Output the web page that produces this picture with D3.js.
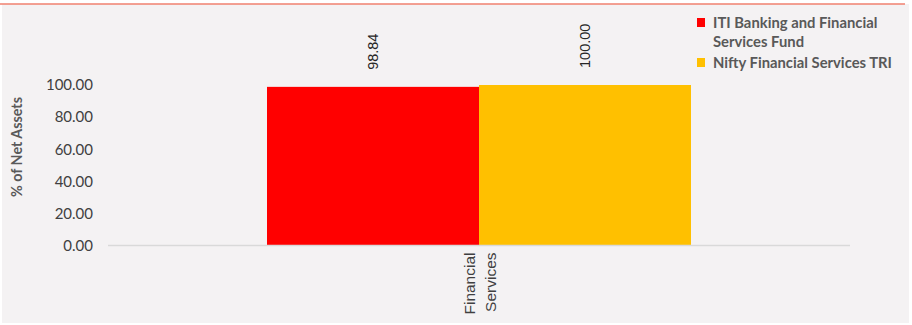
<!DOCTYPE html>
<html>
<head>
<meta charset="utf-8">
<script src="https://cdn.jsdelivr.net/npm/d3@7/dist/d3.min.js"></script>
<style>
  html, body { margin: 0; padding: 0; background: #ffffff; }
  svg { display: block; }
</style>
</head>
<body>
<svg id="chart" width="912" height="325"></svg>
<script>
// Sector allocation: fund vs. benchmark
const categories = ["Financial Services"];
const categoryLines = [["Financial", "Services"]];
const seriesNames = ["ITI Banking and Financial Services Fund", "Nifty Financial Services TRI"];
const seriesLegendLines = [["ITI Banking and Financial", "Services Fund"], ["Nifty Financial Services TRI"]];
const fundValues = [98.84];
const benchmarkValues = [100.00];
const yTicks = [0, 20, 40, 60, 80, 100];
const seriesColors = ["#ff0000", "#ffc000"];

const svg = d3.select("#chart");

// panel background and top rule
svg.append("rect").attr("x", 2).attr("y", 4).attr("width", 907).attr("height", 319).attr("fill", "#f4f2f3");
svg.append("line").attr("x1", 0).attr("x2", 905).attr("y1", 4).attr("y2", 4)
  .attr("stroke", "#f0806f").attr("stroke-width", 1.6);

const plot = { left: 108, right: 850, top: 85, bottom: 245.5 };

const x0 = d3.scaleBand().domain(categories).range([plot.left, plot.right]).padding(0);
const x1 = d3.scaleBand().domain(seriesNames).range([0, x0.bandwidth()])
  .paddingInner(0).paddingOuter(0.75);
const y = d3.scaleLinear().domain([0, 100]).range([plot.bottom, plot.top]);

const rows = categories.map((c, i) => ({
  category: c,
  lines: categoryLines[i],
  values: [fundValues[i], benchmarkValues[i]]
}));

// y axis (labels only)
const yAxis = d3.axisLeft(y).tickValues(yTicks).tickFormat(d3.format(".2f")).tickSize(0).tickPadding(0);
const gy = svg.append("g").attr("transform", `translate(93,0)`).call(yAxis);
gy.select(".domain").remove();
gy.selectAll("text")
  .attr("font-family", "Lato, 'Noto Sans', sans-serif")
  .attr("font-size", "15px")
  .attr("fill", "#404040");

// bars
const groups = svg.append("g").selectAll("g").data(rows).join("g")
  .attr("transform", d => `translate(${x0(d.category)},0)`);

groups.selectAll("rect").data(d => d.values.map((v, k) => ({ v, k })))
  .join("rect")
  .attr("x", d => x1(seriesNames[d.k]))
  .attr("width", x1.bandwidth())
  .attr("y", d => y(d.v))
  .attr("height", d => y(0) - y(d.v))
  .attr("fill", d => seriesColors[d.k]);

// value labels, rotated
groups.selectAll("text.val").data(d => d.values.map((v, k) => ({ v, k })))
  .join("text")
  .attr("class", "val")
  .attr("transform", d => `translate(${x1(seriesNames[d.k]) + x1.bandwidth() / 2 + 5},${y(d.v) - 17}) rotate(-90)`)
  .attr("text-anchor", "start")
  .attr("font-family", "'Liberation Sans', Arial, sans-serif")
  .attr("font-size", "14.5px")
  .attr("fill", "#262626")
  .text(d => d.v.toFixed(2));

// baseline
svg.append("line")
  .attr("x1", plot.left).attr("x2", plot.right)
  .attr("y1", y(0)).attr("y2", y(0))
  .attr("stroke", "#d9d9d9").attr("stroke-width", 1.5);

// category labels, rotated
const catG = svg.append("g").selectAll("g").data(rows).join("g");
catG.each(function (d) {
  const cx = x0(d.category) + x0.bandwidth() / 2;
  const g = d3.select(this);
  d.lines.forEach((ln, j) => {
    g.append("text")
      .attr("transform", `translate(${cx - 4 + j * 21},${y(0) + 7}) rotate(-90)`)
      .attr("text-anchor", "end")
      .attr("font-family", "'Liberation Sans', Arial, sans-serif")
      .attr("font-size", "15.5px")
      .attr("fill", "#404040")
      .text(ln);
  });
});

// y axis title
svg.append("text")
  .attr("transform", `translate(22,147) rotate(-90)`)
  .attr("text-anchor", "middle")
  .attr("font-family", "Lato, 'Noto Sans', sans-serif")
  .attr("font-weight", "bold")
  .attr("font-size", "14.3px")
  .attr("fill", "#595959")
  .text("% of Net Assets");

// legend
const legendTop = [18, 58];
const legend = svg.append("g");
seriesNames.forEach((s, i) => {
  legend.append("rect").attr("x", 697).attr("y", legendTop[i]).attr("width", 8).attr("height", 9)
    .attr("fill", seriesColors[i]);
  seriesLegendLines[i].forEach((ln, j) => {
    legend.append("text")
      .attr("x", 713).attr("y", legendTop[i] + 10 + j * 19)
      .attr("font-family", "Lato, 'Noto Sans', sans-serif")
      .attr("font-weight", "bold")
      .attr("font-size", "14.8px")
      .attr("fill", "#595959")
      .text(ln);
  });
});
</script>
</body>
</html>
